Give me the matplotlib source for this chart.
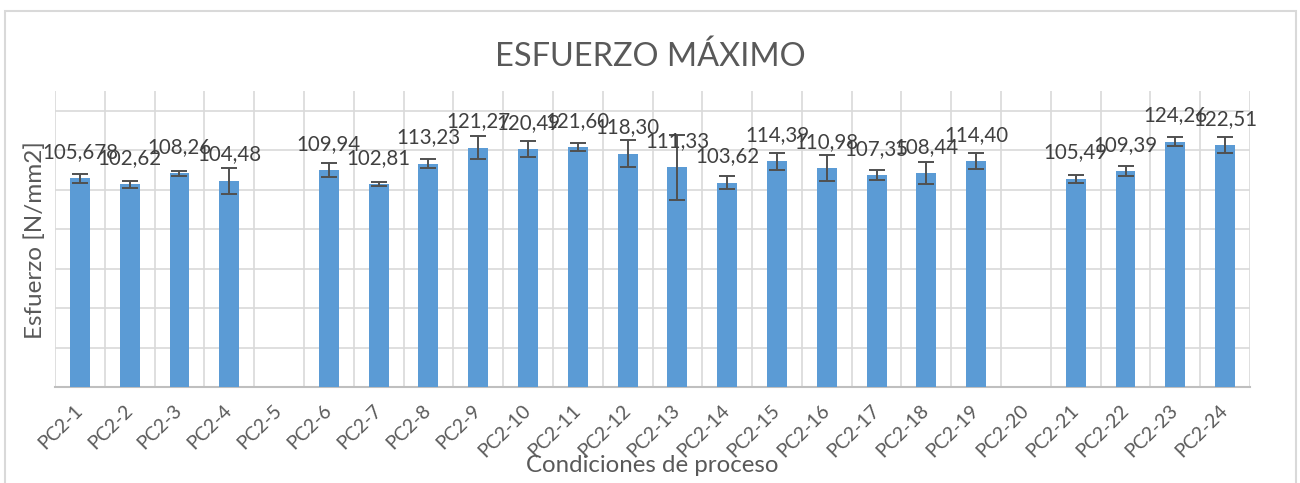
import numpy as np
import matplotlib.pyplot as plt
from matplotlib.patches import Rectangle

plt.rcParams['font.family'] = ['Lato', 'DejaVu Sans']

# data
conditions = ["PC2-%d" % i for i in range(1, 25)]
esfuerzo = [105.678, 102.62, 108.26, 104.48, np.nan, 109.94, 102.81, 113.23,
            121.27, 120.49, 121.60, 118.30, 111.33, 103.62, 114.39, 110.98,
            107.35, 108.44, 114.40, np.nan, 105.49, 109.39, 124.26, 122.51]
error = [2.1, 1.9, 1.2, 6.5, np.nan, 3.4, 0.85, 2.5, 5.7, 4.0, 2.1, 6.8,
         16.6, 3.2, 4.2, 6.8, 2.5, 5.5, 4.1, np.nan, 1.9, 2.6, 2.2, 4.1]
labels = ["105,678", "102,62", "108,26", "104,48", "", "109,94", "102,81",
          "113,23", "121,27", "120,49", "121,60", "118,30", "111,33", "103,62",
          "114,39", "110,98", "107,35", "108,44", "114,40", "", "105,49",
          "109,39", "124,26", "122,51"]

bar_color = "#5b9bd5"
grid_color = "#d9d9d9"
text_color = "#595959"

fig = plt.figure(figsize=(13, 4.83), dpi=100)
ax = fig.add_axes([55 / 1300, 1 - 387 / 483, 1195 / 1300, 296 / 483])

# chart border
fig.patches.append(Rectangle((5 / 1300, -0.1), 1291 / 1300, 1.1 - 11 / 483,
                             transform=fig.transFigure, fill=False,
                             edgecolor=grid_color, lw=1.5))

x = np.arange(len(conditions))
ax.bar(x, esfuerzo, width=0.4, color=bar_color, zorder=3)
ax.errorbar(x, esfuerzo, yerr=error, fmt='none', ecolor="#505050",
            elinewidth=1.4, capsize=5.5, capthick=1.4, zorder=4)

for xi, v, lab in zip(x, esfuerzo, labels):
    if lab:
        ax.annotate(lab, (xi, v), xytext=(0, 19), textcoords='offset points',
                    ha='center', va='center', fontsize=14.8, color="#404040",
                    zorder=5)

ax.set_xlim(-0.5, len(conditions) - 0.5)
ax.set_ylim(0, 150)

# horizontal gridlines every 20, vertical lines between categories
for y in range(20, 141, 20):
    ax.axhline(y, color=grid_color, lw=1.2, zorder=1)
for b in np.arange(-0.5, len(conditions), 1.0):
    ax.axvline(b, color=grid_color, lw=1.2, zorder=1)

for s in ['top', 'right', 'left']:
    ax.spines[s].set_visible(False)
ax.spines['bottom'].set_color("#bfbfbf")
ax.spines['bottom'].set_linewidth(1.5)
ax.spines['bottom'].set_zorder(2)

ax.set_yticks([])
ax.set_xticks(x)
ax.set_xticklabels(conditions, rotation=45, ha='right', va='center',
                   rotation_mode='anchor', fontsize=14, color=text_color)
ax.tick_params(axis='x', length=0, pad=15)

fig.text(0.5, 1 - 57 / 483, "ESFUERZO MÁXIMO", ha='center', va='center',
         fontsize=23.4, color=text_color)
fig.text(35 / 1300, 1 - 240 / 483, "Esfuerzo [N/mm2]", rotation=90,
         ha='center', va='center', fontsize=17.5, color=text_color)
fig.text(652 / 1300, 1 - 466 / 483, "Condiciones de proceso", ha='center',
         va='center', fontsize=17.3, color=text_color)

fig.savefig("out.png", dpi=100)
